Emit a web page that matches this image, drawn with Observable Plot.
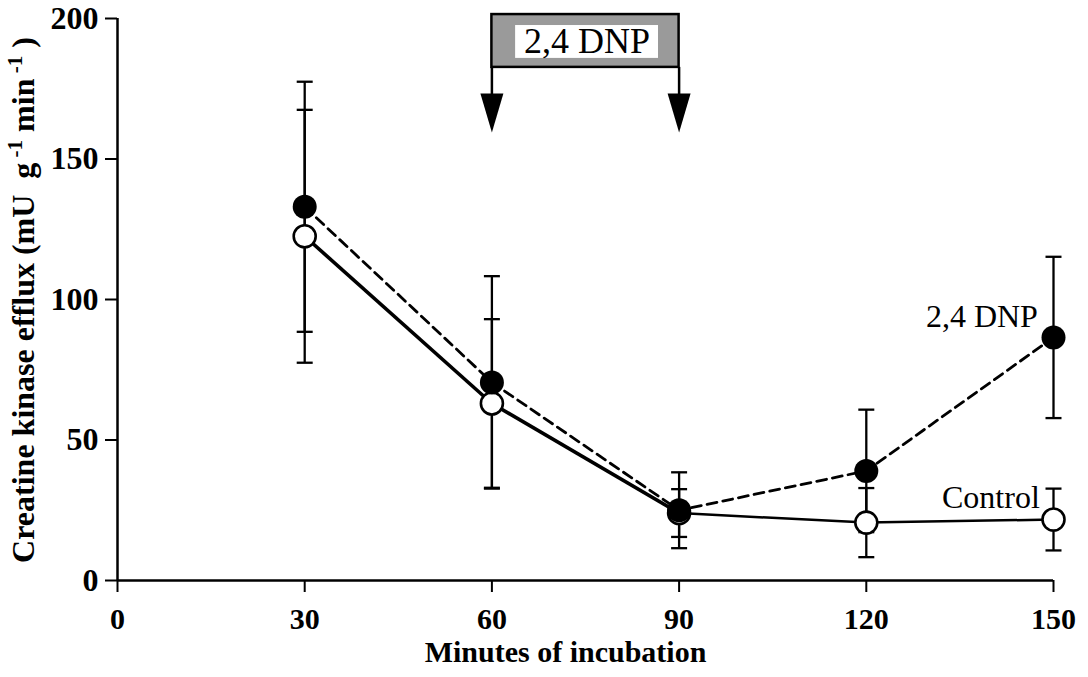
<!DOCTYPE html>
<html>
<head>
<meta charset="utf-8">
<script src="https://cdn.jsdelivr.net/npm/d3@7"></script>
<script src="https://cdn.jsdelivr.net/npm/@observablehq/plot@0.6"></script>
<style>
  html, body { margin: 0; padding: 0; background: #fff; }
  #chart svg { display: block; }
</style>
</head>
<body>
<div id="chart"></div>
<script>
// ---- data ----
const minutes     = [30, 60, 90, 120, 150];
const controlMean = [122.5, 63, 24, 20.6, 21.7];
const controlSem  = [45, 30, 8.5, 12.3, 11];
const dnpMean     = [133, 70.5, 25, 39, 86.5];
const dnpSem      = [44.5, 37.8, 13.5, 21.8, 28.7];
const xTicks = [0, 30, 60, 90, 120, 150];
const yTicks = [0, 50, 100, 150, 200];
const seriesLabels = ["Control", "2,4 DNP"];
// treatment window annotation (minutes / y units)
const treatStart = 60, treatEnd = 90;
const treatLabel = "2,4 DNP";

// ---- build tables ----
const control = minutes.map((t, i) => ({x: t, y: controlMean[i], lo: controlMean[i] - controlSem[i], hi: controlMean[i] + controlSem[i]}));
const dnp = minutes.map((t, i) => ({x: t, y: dnpMean[i], lo: dnpMean[i] - dnpSem[i], hi: dnpMean[i] + dnpSem[i]}));
const controlSegs = control.slice(1).map((d, i) => ({x1: control[i].x, y1: control[i].y, x2: d.x, y2: d.y}));
const caps = [...control, ...dnp].flatMap(d => [{x: d.x, y: d.lo}, {x: d.x, y: d.hi}]);

const capSymbol = {draw(ctx) { ctx.moveTo(-8, 0); ctx.lineTo(8, 0); }};
const arrowHead = {draw(ctx) { ctx.moveTo(-11.5, -39); ctx.lineTo(11.5, -39); ctx.lineTo(0, 0); ctx.closePath(); }};

const box = [{x1: treatStart, x2: treatEnd, y1: 182.6, y2: 201.4}];
const inner = [{x1: 63.8, x2: 86.7, y1: 185.8, y2: 197.5}];
const arrows = [treatStart, treatEnd].map(x => ({x, top: 182.6, stemEnd: 172, tip: 159.4}));

const serif = "'Liberation Serif', 'Times New Roman', serif";

const chart = Plot.plot({
  width: 1088,
  height: 677,
  marginLeft: 117,
  marginRight: 35,
  marginTop: 18,
  marginBottom: 97,
  style: {fontFamily: serif, background: "#fff", color: "#000", overflow: "visible"},
  x: {domain: [0, 150]},
  y: {domain: [0, 200]},
  marks: [
    Plot.axisY({ticks: yTicks, tickSize: 12, tickPadding: 7, fontSize: 32, fontWeight: "bold", strokeWidth: 2, label: null}),
    Plot.axisX({ticks: xTicks, tickSize: 12, tickPadding: 15, fontSize: 30, fontWeight: "bold", strokeWidth: 2, label: null}),
    Plot.ruleX([0], {y1: 0, y2: 200, strokeWidth: 2.5}),
    Plot.ruleY([0], {x1: 0, x2: 150, strokeWidth: 2.5}),
    // error bars
    Plot.ruleX([...control, ...dnp], {x: "x", y1: "lo", y2: "hi", strokeWidth: 2.3}),
    Plot.dot(caps, {x: "x", y: "y", symbol: capSymbol, stroke: "black", strokeWidth: 2.3, fill: "none", r: 8}),
    // lines
    Plot.line(dnp, {x: "x", y: "y", strokeWidth: 2.8, strokeDasharray: "10,6"}),
    Plot.link(controlSegs, {x1: "x1", y1: "y1", x2: "x2", y2: "y2", strokeWidth: d => d.x2 <= 90 ? 3.6 : 2.5}),
    // markers
    Plot.dot(control, {x: "x", y: "y", r: 11, fill: "white", stroke: "black", strokeWidth: 2.6}),
    Plot.dot(dnp, {x: "x", y: "y", r: 12, fill: "black", stroke: "none"}),
    // series labels
    Plot.text([dnp[dnp.length - 1]], {x: d => d.x - 2.5, y: d => d.y + 7.5, text: () => seriesLabels[1], textAnchor: "end", fontSize: 32}),
    Plot.text([control[control.length - 1]], {x: d => d.x - 2.2, y: d => d.y + 7.8, text: () => seriesLabels[0], textAnchor: "end", fontSize: 32}),
    // treatment annotation
    Plot.rect(box, {x1: "x1", x2: "x2", y1: "y1", y2: "y2", fill: "#9a9a9a", stroke: "black", strokeWidth: 2.5, clip: false}),
    Plot.rect(inner, {x1: "x1", x2: "x2", y1: "y1", y2: "y2", fill: "white"}),
    Plot.text(inner, {x: d => (d.x1 + d.x2) / 2, y: d => (d.y1 + d.y2) / 2, text: () => treatLabel, fontSize: 36}),
    Plot.ruleX(arrows, {x: "x", y1: "top", y2: "stemEnd", strokeWidth: 2.5}),
    Plot.dot(arrows, {x: "x", y: "tip", symbol: arrowHead, fill: "black", stroke: "none", r: 10}),
    // x axis title
    Plot.text(["Minutes of incubation"], {frameAnchor: "bottom", dy: 81, dx: -20, fontSize: 30, fontWeight: "bold"})
  ]
});

// y axis title with superscripts
const svg = d3.select(chart.tagName === "svg" ? chart : chart.querySelector("svg"));
const yt = svg.append("text")
  .attr("transform", "translate(34,300) rotate(-90)")
  .attr("text-anchor", "middle")
  .attr("font-family", serif)
  .attr("font-weight", "bold")
  .attr("font-size", 32)
  .attr("fill", "black");
yt.append("tspan").text("Creatine kinase efflux (mU\u00a0\u00a0g");
yt.append("tspan").attr("dy", -12).attr("font-size", 21).text("\u00a0-1");
yt.append("tspan").attr("dy", 12).text(" min");
yt.append("tspan").attr("dy", -12).attr("font-size", 21).text("\u00a0-1");
yt.append("tspan").attr("dy", 12).text(" )");

document.getElementById("chart").appendChild(chart);
</script>
</body>
</html>
